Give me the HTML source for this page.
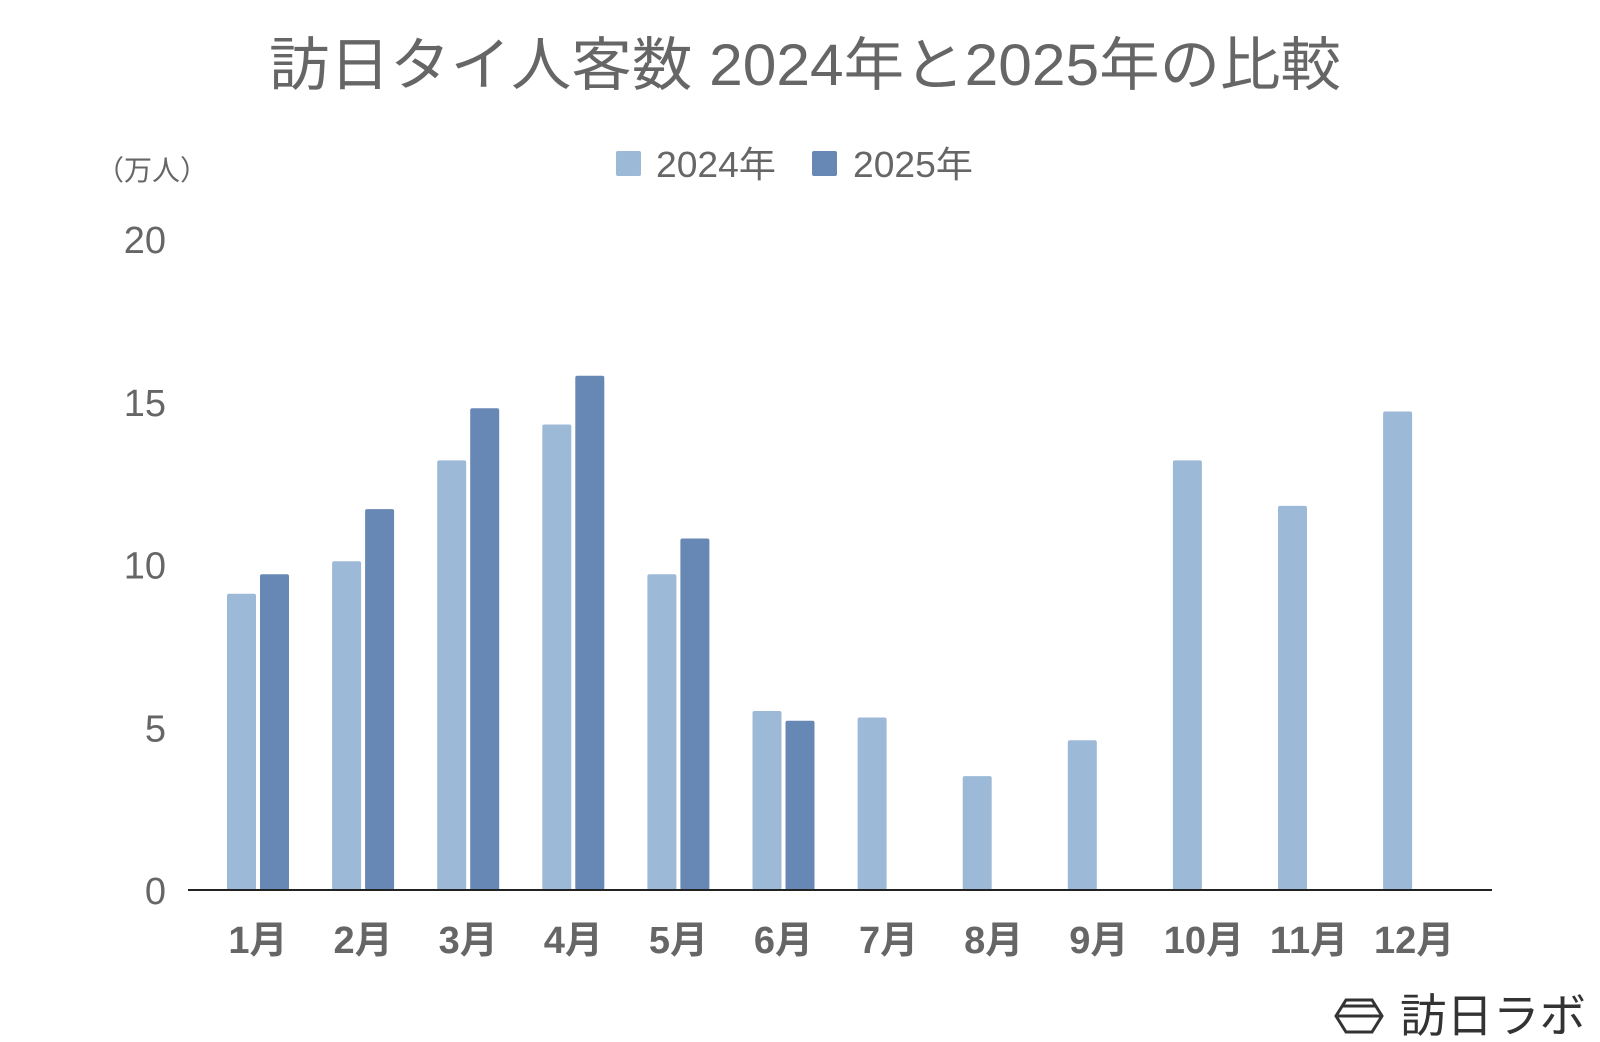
<!DOCTYPE html>
<html><head><meta charset="utf-8"><style>
body{margin:0;background:#fff;}
svg{display:block;font-family:"Liberation Sans","Noto Sans CJK JP",sans-serif;}
</style></head><body>
<svg id="chart" width="1600" height="1042" viewBox="0 0 1600 1042">
<text x="805" y="85" text-anchor="middle" font-size="58" textLength="1072" lengthAdjust="spacingAndGlyphs" fill="#666">訪日タイ人客数 2024年と2025年の比較</text>
<g>
<rect x="616" y="151" width="25" height="25" rx="2" fill="#9db9d8"/>
<text x="656" y="177" font-size="36" fill="#666" textLength="120" lengthAdjust="spacingAndGlyphs">2024年</text>
<rect x="812" y="151" width="25" height="25" rx="2" fill="#6787b5"/>
<text x="853" y="177" font-size="36" fill="#666" textLength="120" lengthAdjust="spacingAndGlyphs">2025年</text>
</g>
<text x="96" y="180" font-size="28" fill="#666">（万人）</text>
<g id="yt"></g><g id="bars"></g><g id="xl"></g>
<line x1="188" y1="890" x2="1492" y2="890" stroke="#222" stroke-width="2"/>
<g>
<polygon points="1346,1000 1336,1016 1346,1032 1372,1032 1382,1016 1372,1000" fill="none" stroke="#333" stroke-width="3"/>
<line x1="1338" y1="1016" x2="1380" y2="1016" stroke="#333" stroke-width="3"/>
<line x1="1343" y1="1006" x2="1375" y2="1006" stroke="#333" stroke-width="3"/>
<text x="1400" y="1032" font-size="46" fill="#333" textLength="186" lengthAdjust="spacingAndGlyphs">訪日ラボ</text>
</g>
</svg>
<script>
const months=["1月","2月","3月","4月","5月","6月","7月","8月","9月","10月","11月","12月"];
const values2024=[9.1,10.1,13.2,14.3,9.7,5.5,5.3,3.5,4.6,13.2,11.8,14.7];
const values2025=[9.7,11.7,14.8,15.8,10.8,5.2,null,null,null,null,null,null];
const yTicks=[0,5,10,15,20];
const NS="http://www.w3.org/2000/svg";
const y0=890,pxPer=32.55,x0=258,step=105.1,bw=29,gap=4;
function yS(v){return y0-v*pxPer;}
function xC(i){return x0+i*step;}
function mk(tag,attrs,parent,txt){const e=document.createElementNS(NS,tag);for(const k in attrs)e.setAttribute(k,attrs[k]);if(txt!==undefined)e.textContent=txt;document.getElementById(parent).appendChild(e);return e;}
yTicks.forEach(t=>{
 const e=mk('text',{x:166,y:yS(t)+14,'text-anchor':'end','font-size':38,fill:'#666'},'yt',String(t));
 
 
});
months.forEach((m,i)=>{
 const e=mk('text',{x:xC(i),y:953,'text-anchor':'middle','font-size':38,fill:'#666','font-weight':'bold'},'xl',m);
 
 
 const v1=values2024[i];
 if(v1!=null){
  const b=mk('rect',{x:xC(i)-gap/2-bw,y:yS(v1),width:bw,height:y0-yS(v1),rx:2,fill:'#9db9d8'},'bars');
  
  
 }
 const v2=values2025[i];
 if(v2!=null){
  const b=mk('rect',{x:xC(i)+gap/2,y:yS(v2),width:bw,height:y0-yS(v2),rx:2,fill:'#6787b5'},'bars');
  
  
 }
});
</script>
</body></html>
